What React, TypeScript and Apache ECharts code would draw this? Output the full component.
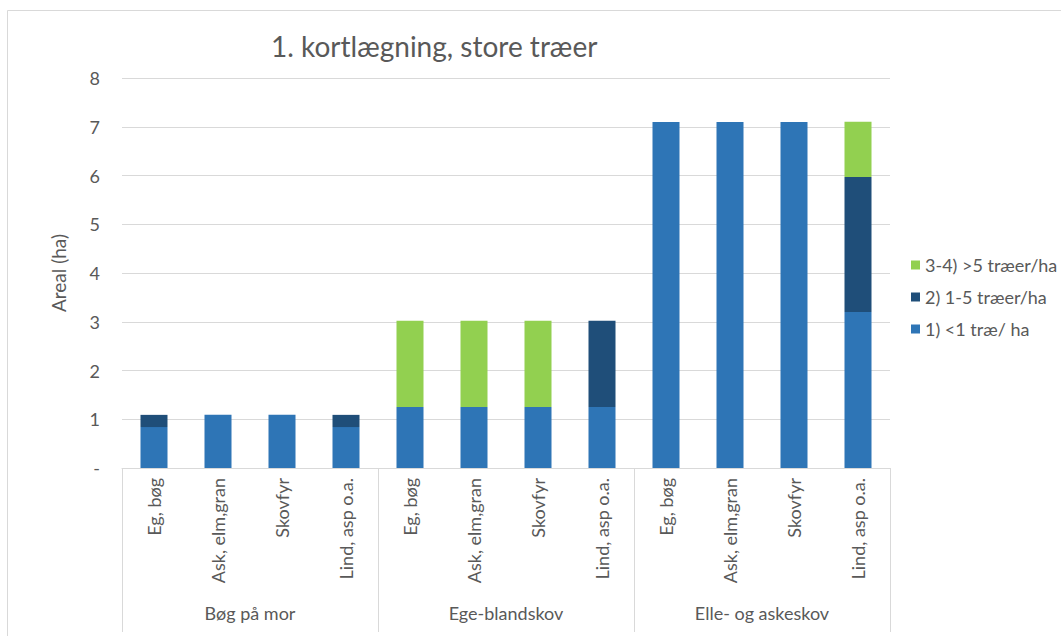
import React, { useEffect, useRef } from "react";
import * as echarts from "echarts";

const categories = [
  "Eg, bøg", "Ask, elm,gran", "Skovfyr", "Lind, asp o.a.",
  "Eg, bøg", "Ask, elm,gran", "Skovfyr", "Lind, asp o.a.",
  "Eg, bøg", "Ask, elm,gran", "Skovfyr", "Lind, asp o.a.",
];
const groups = ["Bøg på mor", "Ege-blandskov", "Elle- og askeskov"];
const seriesNames = ["1) <1 træ/ ha", "2) 1-5 træer/ha", "3-4) >5 træer/ha"];
const under1 = [0.84, 1.09, 1.09, 0.84, 1.25, 1.25, 1.25, 1.25, 7.1, 7.1, 7.1, 3.2];
const from1to5 = [0.25, 0, 0, 0.25, 0, 0, 0, 1.77, 0, 0, 0, 2.77];
const over5 = [0, 0, 0, 0, 1.77, 1.77, 1.77, 0, 0, 0, 0, 1.13];
const yTicks = ["-", "1", "2", "3", "4", "5", "6", "7", "8"];

const colors = ["#2E75B6", "#1F4E79", "#92D050"];
const FONT = "Lato, 'Open Sans', sans-serif";
const TXT = "#595959";

export default function App() {
  const ref = useRef<HTMLDivElement>(null);
  useEffect(() => {
    if (!ref.current) return;
    const chart = echarts.init(ref.current, null, { renderer: "svg" });
    const values = [under1, from1to5, over5];
    chart.setOption({
      animation: false,
      backgroundColor: "#fff",
      textStyle: { fontFamily: FONT },
      title: {
        text: "1. kortlægning, store træer",
        left: 266,
        top: 27,
        textStyle: { fontFamily: FONT, fontSize: 28, fontWeight: "normal", color: TXT },
      },
      graphic: [
        {
          type: "rect",
          shape: { x: 7.5, y: 10.5, width: 1070, height: 640 },
          style: { fill: "none", stroke: "#d9d9d9", lineWidth: 1 },
          silent: true,
        },
      ],
      legend: {
        orient: "vertical",
        left: 906,
        top: 251,
        itemWidth: 9,
        itemHeight: 9,
        itemGap: 14,
        icon: "rect",
        data: [seriesNames[2], seriesNames[1], seriesNames[0]],
        textStyle: { fontFamily: FONT, fontSize: 18, color: TXT },
      },
      grid: { left: 122, right: 171, top: 78, bottom: 168 },
      yAxis: {
        type: "value",
        min: 0,
        max: 8,
        interval: 1,
        name: "Areal (ha)",
        nameLocation: "middle",
        nameGap: 54,
        nameTextStyle: { fontFamily: FONT, fontSize: 19, color: TXT },
        axisLine: { show: false },
        axisTick: { show: false },
        axisLabel: {
          margin: 22,
          fontFamily: FONT,
          fontSize: 18,
          color: TXT,
          formatter: (v: number) => yTicks[Math.round(v)] ?? String(v),
        },
        splitLine: { lineStyle: { color: "#d9d9d9", width: 1 } },
      },
      xAxis: [
        {
          type: "category",
          data: categories,
          position: "bottom",
          axisLine: { lineStyle: { color: "#d9d9d9", width: 1 } },
          axisTick: { show: false },
          axisLabel: {
            interval: 0,
            rotate: 90,
            margin: 10,
            fontFamily: FONT,
            fontSize: 18,
            color: TXT,
          },
        },
        {
          type: "category",
          data: groups,
          position: "bottom",
          axisLine: { show: false },
          axisTick: {
            show: true,
            interval: 0,
            length: 164,
            lineStyle: { color: "#d9d9d9", width: 1 },
          },
          axisLabel: {
            interval: 0,
            margin: 136,
            fontFamily: FONT,
            fontSize: 18,
            color: TXT,
          },
          splitLine: { show: false },
        },
      ],
      series: seriesNames.map((name, i) => ({
        name,
        type: "bar",
        stack: "total",
        xAxisIndex: 0,
        barWidth: 27,
        data: values[i],
        itemStyle: { color: colors[i] },
      })),
    });
    return () => chart.dispose();
  }, []);
  return (
    <div
      ref={ref}
      style={{ position: "fixed", left: 0, top: 0, width: 1061, height: 636 }}
    />
  );
}
